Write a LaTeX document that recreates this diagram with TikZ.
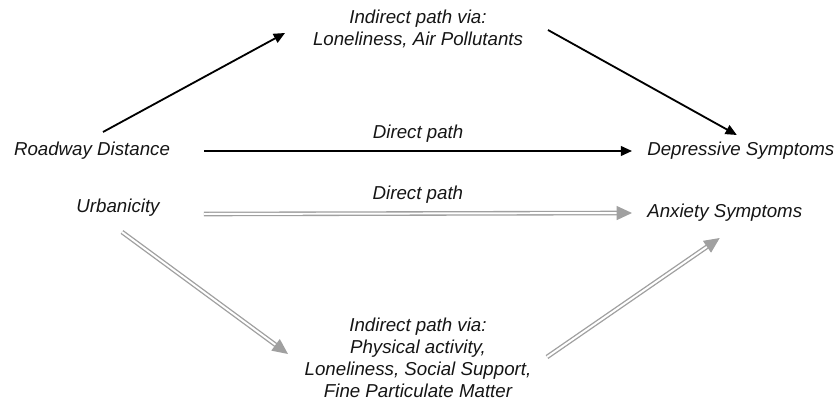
\documentclass[tikz,border=0pt]{standalone}
\usepackage{fontspec}
\setmainfont{Liberation Sans}
\usepackage{xcolor}
\usepackage{tikz}
\usetikzlibrary{arrows.meta,calc,positioning}
\definecolor{txtgray}{HTML}{151515}
\definecolor{urbgray}{HTML}{A0A0A0}

\begin{document}
\begin{tikzpicture}[x=0.025cm,y=-0.025cm,
  font=\fontsize{13.3}{15.6}\selectfont\itshape,
  every node/.style={text=txtgray,inner sep=0pt},
  roadarrow/.style={draw=black,line width=1.3pt,-{Triangle[length=8pt,width=7pt]}},
  urbarrow/.style={draw=urbgray,line width=0.95pt,double=white,double distance=1.4pt,-{Triangle[length=11pt,width=10pt,fill=urbgray]}}]
  \useasboundingbox (0,0) rectangle (836,405);
  % exposures and outcomes
  \node (road) at (92,151) {Roadway Distance};
  \node (urb) at (118,208) {Urbanicity};
  \node[anchor=west] (dep) at (647,151) {Depressive Symptoms};
  \node[anchor=west] (anx) at (647,213) {Anxiety Symptoms};
  % mediators
  \node[align=center] (top) at (418,29) {Indirect path via:\\Loneliness, Air Pollutants};
  \node[align=center] (bot) at (418,358) {Indirect path via:\\Physical activity,\\Loneliness, Social Support,\\Fine Particulate Matter};
  % roadway distance
  \draw[roadarrow] ($(road.east)+(34,0)$) -- node[above=5.5pt] (rdir) {Direct path} ($(dep.west)+(-15,0)$);
  \draw[roadarrow] ($(road)+(11,-19)$) -- ($(top)+(-133,4)$);
  \draw[roadarrow] ($(top)+(130,1)$) -- ($(dep)+(-4,-16)$);
  % urbanicity
  \draw[urbarrow] ($(urb.east)+(44,6)$) -- node[above=6.5pt] (udir) {Direct path} ($(anx.west)+(-15,0)$);
  \draw[urbarrow] ($(urb)+(4,24)$) -- ($(bot)+(-130,-4)$);
  \draw[urbarrow] ($(bot)+(129,-1)$) -- ($(anx)+(-5,25)$);
\end{tikzpicture}
\end{document}
